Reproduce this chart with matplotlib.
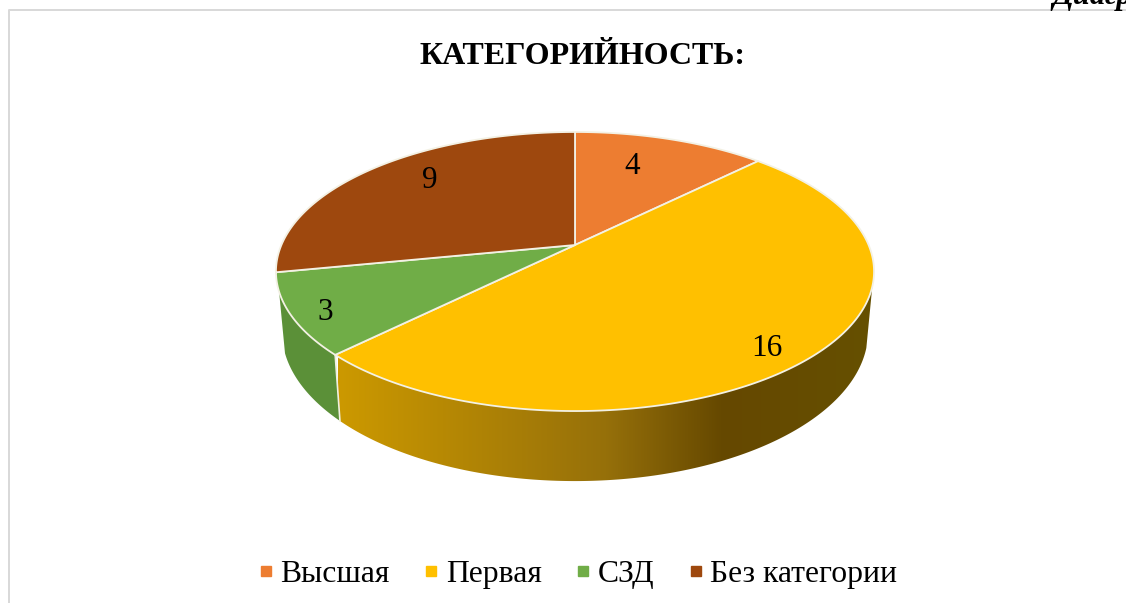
import numpy as np
import matplotlib
matplotlib.use('Agg')
import matplotlib.pyplot as plt
from matplotlib.colors import LinearSegmentedColormap
from matplotlib.lines import Line2D
from matplotlib.patches import Polygon

plt.rcParams['font.family'] = ['Liberation Serif', 'DejaVu Serif']

#======================================================================================
#                                     data
#======================================================================================
categories = ['Высшая', 'Первая', 'СЗД', 'Без категории']
values = [4, 16, 3, 9]
colors = ['#ED7D31', '#FFC000', '#70AD47', '#9E480E']
title = 'КАТЕГОРИЙНОСТЬ:'

#--------------------------------------------------------------------
# pie geometry in pixels, perspective of the tilted disc
cx, cy = 575.0, 245.0
a, b, p = 293.6, 134.5, 0.19
wall_sx, wall_sy, wall_dy = 0.98, 1.07, 58.4
wall_from, wall_to = np.radians(107), np.radians(251)  # where the side silhouette sits
label_xy = [(632, 167), (767, 349), (325, 312), (430, 180)]


def rim(theta):
    u, v = np.sin(theta), np.cos(theta)
    return a * u / (1 + p * v), b * v / (1 + p * v)


def top_rim(theta):
    x, y = rim(theta)
    return np.column_stack([cx + x, cy - y])


def bottom_rim(theta):
    x, y = rim(theta)
    return np.column_stack([cx + wall_sx * x, cy + wall_dy - wall_sy * y])


fig = plt.figure(figsize=(11.26, 6.03), dpi=100)
ax = fig.add_axes([0, 0, 1, 1])

edges = np.concatenate([[0], np.cumsum(values)]) / np.sum(values) * 2 * np.pi

#--------------------------------------------------------------------
#                         side walls (only the front ones show)
#--------------------------------------------------------------------
wall_cmap = LinearSegmentedColormap.from_list(
    'wall', [(0.0, '#CC9900'), (0.5, '#96700A'), (0.72, '#654800'), (1.0, '#665000')])

t = np.linspace(wall_from, edges[2], 300)
poly = Polygon(np.vstack([top_rim(t), bottom_rim(t)[::-1]]), closed=True, fc='none', ec='none',
               transform=ax.transData)
ax.add_patch(poly)
grad = np.linspace(0, 1, 256).reshape(1, -1)
im = ax.imshow(grad, extent=(338, 874, 500, 250), cmap=wall_cmap, aspect='auto', zorder=1)
im.set_clip_path(poly)

t = np.linspace(edges[2], wall_to, 60)
ax.add_patch(Polygon(np.vstack([top_rim(t), bottom_rim(t)[::-1]]), closed=True, fc='#5B9038',
                     ec='none', zorder=1))
seam = np.vstack([top_rim(edges[2:3]), bottom_rim(edges[2:3])])
ax.plot(seam[:, 0], seam[:, 1], color='#F0EFE0', lw=1.2, zorder=2)

#--------------------------------------------------------------------
#                               top face
#--------------------------------------------------------------------
for i in range(len(values)):
    t = np.linspace(edges[i], edges[i + 1], 200)
    pts = np.vstack([[cx, cy], top_rim(t)])
    ax.add_patch(Polygon(pts, closed=True, fc=colors[i], ec='#F3F1E4', lw=1.3, zorder=3,
                         joinstyle='round'))

for i in range(len(values)):
    ax.text(label_xy[i][0], label_xy[i][1], str(values[i]), fontsize=22.5, color='k',
            ha='center', va='center', zorder=5)

#--------------------------------------------------------------------
#                         frame, title, legend
#--------------------------------------------------------------------
ax.plot([9, 9, 1126], [603, 10, 10], color='#D9D9D9', lw=1.44, zorder=0)
ax.text(583, 56, title, fontsize=23, fontweight='bold', ha='center', va='center')
ax.text(1052, 4, 'Диаграмма', fontsize=22, fontweight='bold', fontstyle='italic',
        ha='left', va='baseline')

handles = [Line2D([], [], ls='none', marker='s', ms=7.5, mfc=c, mec=c) for c in colors]
ax.legend(handles, categories, loc='center', bbox_to_anchor=(577.5 / 1126, 1 - 574 / 603), ncol=4,
          frameon=False, fontsize=22.8, handlelength=0.5, handletextpad=0.22, columnspacing=1.05,
          borderpad=0, borderaxespad=0)

ax.set_xlim(0, 1126)
ax.set_ylim(603, 0)
ax.axis('off')

plt.savefig('out.png', dpi=100)
